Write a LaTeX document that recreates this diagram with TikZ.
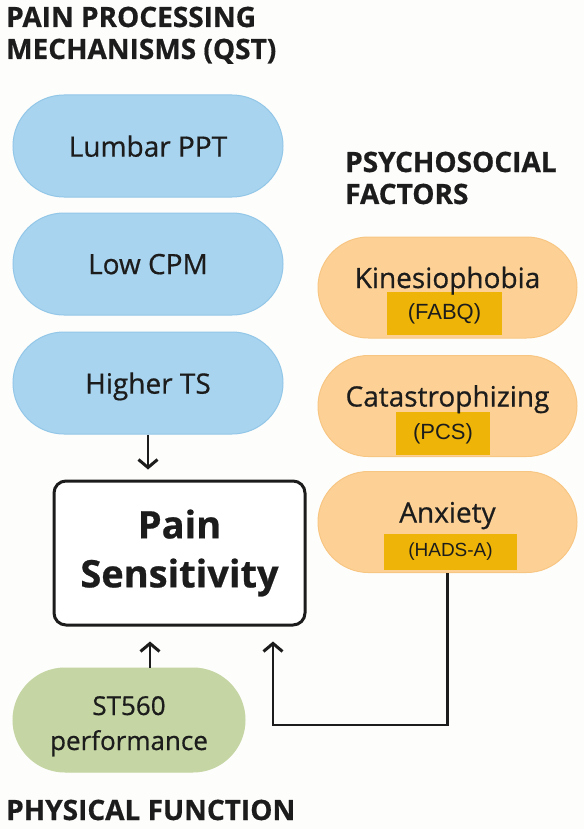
\documentclass[tikz,border=0pt]{standalone}
\usepackage{fontspec}
\setmainfont{Open Sans}[RawFeature={embolden=0.6}]
\newfontfamily\tagfont{Liberation Sans}
\usetikzlibrary{arrows.meta,positioning,shapes.misc}
\definecolor{skyfill}{HTML}{A8D4EF}
\definecolor{skyline}{HTML}{93C7E8}
\definecolor{peach}{HTML}{FDD196}
\definecolor{peachline}{HTML}{F8C683}
\definecolor{gold}{HTML}{EEB508}
\definecolor{sage}{HTML}{C5D5A3}
\definecolor{ink}{HTML}{1C1C1C}
\definecolor{paper}{HTML}{FDFDFB}

\tikzset{
  head/.style={font=\fontsize{28}{32}\selectfont\bfseries,text=ink,align=left,inner sep=0pt},
  pill/.style={rounded rectangle,inner sep=0pt,line width=1pt,text=ink,align=center},
  tag/.style={fill=gold,inner sep=0pt,text=ink},
  arr/.style={line width=2.8pt,draw=ink,-{Straight Barb[length=8pt,width=19pt,line width=3pt]}}
}

\begin{document}
\begin{tikzpicture}[x=1pt,y=-1pt]
  \fill[paper] (0,0) rectangle (584,829);
  \useasboundingbox (0,0) rectangle (584,829);

  % group titles (base = last line)
  \node[head,anchor=base west] (hdqst) at (6,59) {PAIN PROCESSING\\MECHANISMS (QST)};
  \node[head,anchor=base west] (hdpsy) at (345,204) {PSYCHOSOCIAL\\FACTORS};
  \node[head,anchor=base west] (hdphy) at (6,820) {PHYSICAL FUNCTION};

  % QST measures
  \foreach \n/\t/\y in {ppt/Lumbar PPT/146, cpm/Low CPM/264, ts/Higher TS/383}
    \node[pill,fill=skyfill,draw=skyline,minimum width=270pt,minimum height=102pt,
          font=\fontsize{28}{32}\selectfont,text depth=0pt] (\n) at (148,\y) {\t};

  % psychosocial factors
  \foreach \n/\t/\y/\g/\gx/\gy/\gw/\gh/\gs in {kin/Kinesiophobia/287.5/(FABQ)/444.5/313.5/115/43/22,
      cat/Catastrophizing/406/(PCS)/443/433.5/94/43/22,
      anx/Anxiety/522/(HADS-A)/450.5/552/133/36/19}{
    \node[pill,fill=peach,draw=peachline,minimum width=259pt,minimum height=101pt] (\n) at (447.5,\y) {};
    \node[tag,minimum width=\gw pt,minimum height=\gh pt,font=\tagfont\fontsize{\gs}{\gs}\selectfont] (\n tag) at (\gx,\gy) {\g};
    \node[anchor=base,inner sep=0pt,text=ink,font=\fontsize{28}{32}\selectfont] (\n txt) at ([yshift=-0.5pt]\n.center) {\t};
  }

  % outcome
  \node[draw=ink,fill=white,line width=3pt,rounded corners=12pt,minimum width=251pt,minimum height=144pt,
        align=center,text=ink,font=\fontsize{38}{49}\selectfont\bfseries] (ps) at (179.5,553) {Pain\\Sensitivity};

  % physical function
  \node[pill,fill=sage,draw=sage,minimum width=232pt,minimum height=104pt] (st) at (129,720) {};
  \node[anchor=base,align=center,inner sep=0pt,text=ink,font=\fontsize{26}{35}\selectfont] (sttxt) at (129,750) {ST560\\performance};

  % connectors
  \draw[arr,shorten >=10pt] (ts.south) -- (ts.south |- ps.north);
  \coordinate (stup) at ([xshift=21pt]st.north);
  \draw[arr,shorten >=15pt] (stup) -- (stup |- ps.south);
  \coordinate (psin) at ([xshift=93.5pt]ps.south);
  \draw[arr,shorten >=15pt] (anx.south) -- ++(0,152) -| (psin);
\end{tikzpicture}
\end{document}
